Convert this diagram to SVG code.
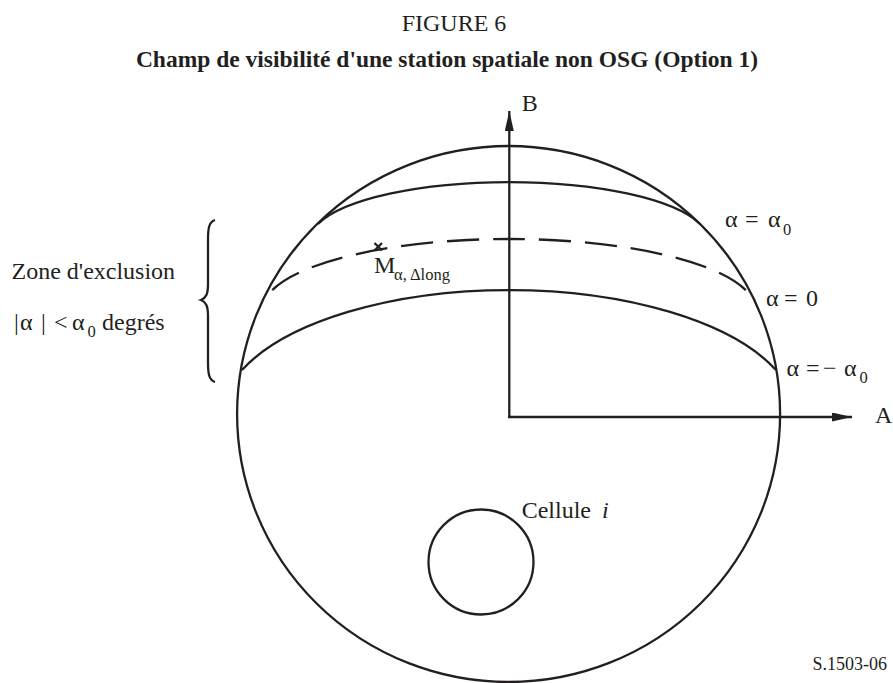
<svg xmlns="http://www.w3.org/2000/svg" width="893" height="683" viewBox="0 0 893 683">
<style>
text{font-family:"Liberation Serif","Times New Roman",serif;fill:#231f20}
.lab{font-size:24px}
.sub{font-size:16.5px}
.ttl{font-size:23.5px;font-weight:bold}
.ln{fill:none;stroke:#231f20;stroke-width:2.3}
.dash{fill:none;stroke:#231f20;stroke-width:2.3;stroke-dasharray:32 14;stroke-dashoffset:16}
</style>
<defs>
<marker id="arr" markerUnits="userSpaceOnUse" markerWidth="21" markerHeight="10" refX="20" refY="4.5" orient="auto">
<path d="M0,0 L20,4.5 L0,9 z" fill="#231f20"/>
</marker>
</defs>
<rect width="893" height="683" fill="#fff"/>
<g id="title">
<text class="lab" x="454" y="31" text-anchor="middle">FIGURE 6</text>
<text class="ttl" x="447" y="67" text-anchor="middle">Champ de visibilité d'une station spatiale non OSG (Option 1)</text>
</g>
<g id="sphere">
<ellipse class="ln" cx="508.6" cy="414" rx="271.5" ry="268"/>
<path id="arc-alpha0" class="ln" d="M318,224 A199.2,58.5 0 0 1 700,224"/>
<path id="arc-minus-alpha0" class="ln" d="M242,370 A288,127.9 0 0 1 776,370"/>
</g>
<g id="equator">
<path class="dash" d="M509,239 A246.2,70.4 0 0 0 265,300"/>
<path class="dash" d="M509,239 A246.2,70.4 0 0 1 753,300"/>
</g>
<g id="cell">
<circle class="ln" cx="481" cy="562" r="52.5"/>
<text class="lab" x="521.7" y="518">Cellule <tspan x="602" font-style="italic">i</tspan></text>
</g>
<g id="connectors">
<line class="ln" x1="509.3" y1="418" x2="509.3" y2="111" marker-end="url(#arr)"/>
<line class="ln" x1="508" y1="417" x2="852" y2="417" marker-end="url(#arr)"/>
</g>
<g id="axis-labels">
<text class="lab" x="521.7" y="111">B</text>
<text class="lab" x="875" y="423">A</text>
</g>
<g id="point-M">
<path class="ln" d="M374.5,243 L382,250.5 M382,243 L374.5,250.5" stroke-width="2"/>
<text class="lab" x="374" y="273">M</text>
<text class="sub" x="394" y="280">α,  Δlong</text>
</g>
<g id="latitude-labels">
<text class="lab" y="227"><tspan x="725">α</tspan><tspan x="745">=</tspan><tspan x="768">α</tspan></text>
<text class="sub" x="783" y="235">0</text>
<text class="lab" y="306"><tspan x="766">α</tspan><tspan x="784">=</tspan><tspan x="806">0</tspan></text>
<text class="lab" y="376"><tspan x="786.5">α</tspan><tspan x="806">=</tspan><tspan x="823">−</tspan><tspan x="844">α</tspan></text>
<text class="sub" x="859.5" y="383">0</text>
</g>
<g id="exclusion-zone">
<path class="ln" stroke-width="2" d="M215,220 C209,222 208,228 208,240 L208,284 C208,294 206,298 201,300 C206,302 208,306 208,316 L208,362 C208,374 209,380 215,382"/>
<text class="lab" x="11.5" y="279">Zone d'exclusion</text>
<text class="lab" y="330"><tspan x="14">|</tspan><tspan x="20">α</tspan><tspan x="41">|</tspan><tspan x="54">&lt;</tspan><tspan x="72">α</tspan></text>
<text class="sub" x="87.5" y="337">0</text>
<text class="lab" x="102" y="330">degrés</text>
</g>
<text id="ref" x="887" y="670" font-size="18" text-anchor="end" style="font-family:'Liberation Serif',serif">S.1503-06</text>
</svg>
